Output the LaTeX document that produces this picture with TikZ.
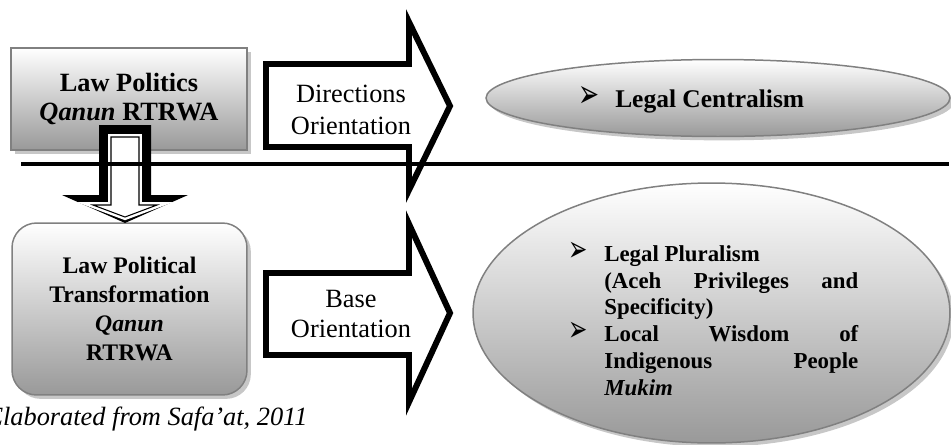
\documentclass[tikz,border=0pt]{standalone}
\usepackage{fontspec}
\usepackage{graphicx}
\setmainfont{Liberation Serif}
\newfontfamily\symfont{DejaVu Sans}
\usetikzlibrary{shapes.geometric,shadows}
\newcommand{\bul}[1]{\resizebox{#1}{#1}{\symfont ➢}}

\begin{document}
\begin{tikzpicture}[x=0.02cm, y=-0.02cm]
        \tikzstyle{shade}=[draw=black!50, line width=0.85pt, top color=white, bottom color=black!40,
            drop shadow={shadow xshift=2.2pt, shadow yshift=-2.2pt, fill=black!22, opacity=1}]
        \tikzstyle{box}=[style=shade, inner sep=0pt, align=center]
        \tikzstyle{oval}=[style=shade, shape=ellipse, inner sep=0pt]
        \tikzstyle{block arrow}=[draw=black, fill=white, line width=3.4pt, line join=miter]
        \tikzstyle{label}=[fill=none, draw=none, align=center]
        \useasboundingbox (0,0) rectangle (951,444);

        % boxes and ovals
        \node [style=box, minimum width=4.72cm, minimum height=2.04cm,
            font=\bfseries\fontsize{15}{17}\selectfont] (politics) at (129,99)
            {Law Politics\\\textit{Qanun} RTRWA};
        \node [style=box, rounded corners=14pt, minimum width=4.7cm, minimum height=3.44cm,
            font=\bfseries\fontsize{13.5}{16.4}\selectfont] (transform) at (129.5,309)
            {Law Political\\Transformation\\\textit{Qanun}\\RTRWA};
        \node [style=oval, minimum width=9.28cm, minimum height=1.54cm] (central) at (718,98) {};
        \node [style=oval, minimum width=9.54cm, minimum height=5.2cm] (plural) at (711.5,313) {};

        % right arrows
        \draw [style=block arrow] (266,64) -- (409,64) -- (409,22) -- (450,106)
            -- (409,190) -- (409,147) -- (266,147) -- cycle;
        \draw [style=block arrow] (266,273) -- (409,273) -- (409,224) -- (450,313)
            -- (409,402) -- (409,355) -- (266,355) -- cycle;
        \node [style=label, font=\fontsize{15}{18}\selectfont] (dirtext) at (351,110)
            {Directions\\Orientation};
        \node [style=label, font=\fontsize{15}{17}\selectfont] (basetext) at (351,314)
            {Base\\Orientation};

        % down arrow
        \fill [black] (99,125) -- (151,125) -- (151,195) -- (188,195) -- (125,223)
            -- (62,195) -- (99,195) -- cycle;
        \draw [white, line width=3.4pt, line join=miter] (111,137) -- (139,137) -- (139,205)
            -- (157,205) -- (125,217) -- (93,205) -- (111,205) -- cycle;
        \draw [black, fill=white, line width=0.6pt, line join=miter] (111,137) -- (139,137)
            -- (139,205) -- (157,205) -- (125,217) -- (93,205) -- (111,205) -- cycle;

        % texts in the ovals
        \node [anchor=base west, inner sep=0pt, font=\bfseries\fontsize{14.5}{17}\selectfont]
            (centraltext) at (578,107) {\makebox[21pt][l]{\bul{12pt}}Legal Centralism};
        \node [anchor=north west, inner sep=0pt, text width=5.8cm, align=justify,
            font=\bfseries\fontsize{13}{15.3}\selectfont] (pluraltext) at (568,241.5)
            {\hangindent=20.5pt\hangafter=1\makebox[20.5pt][l]{\bul{11pt}}Legal Pluralism\newline
             (Aceh Privileges and\linebreak Specificity)\par
             \hangindent=20.5pt\hangafter=1\makebox[20.5pt][l]{\bul{11pt}}Local Wisdom of\linebreak
             Indigenous People\linebreak \textit{Mukim}\par};

        % dividing line
        \coordinate (divL) at (21,164);
        \coordinate (divR) at (949,164);
        \draw [line width=1.8pt] (divL) -- (divR);

        \node [anchor=base east, inner sep=0pt, font=\itshape\fontsize{15}{17}\selectfont]
            (source) at (308,425) {Elaborated from Safa’at, 2011};
\end{tikzpicture}
\end{document}
